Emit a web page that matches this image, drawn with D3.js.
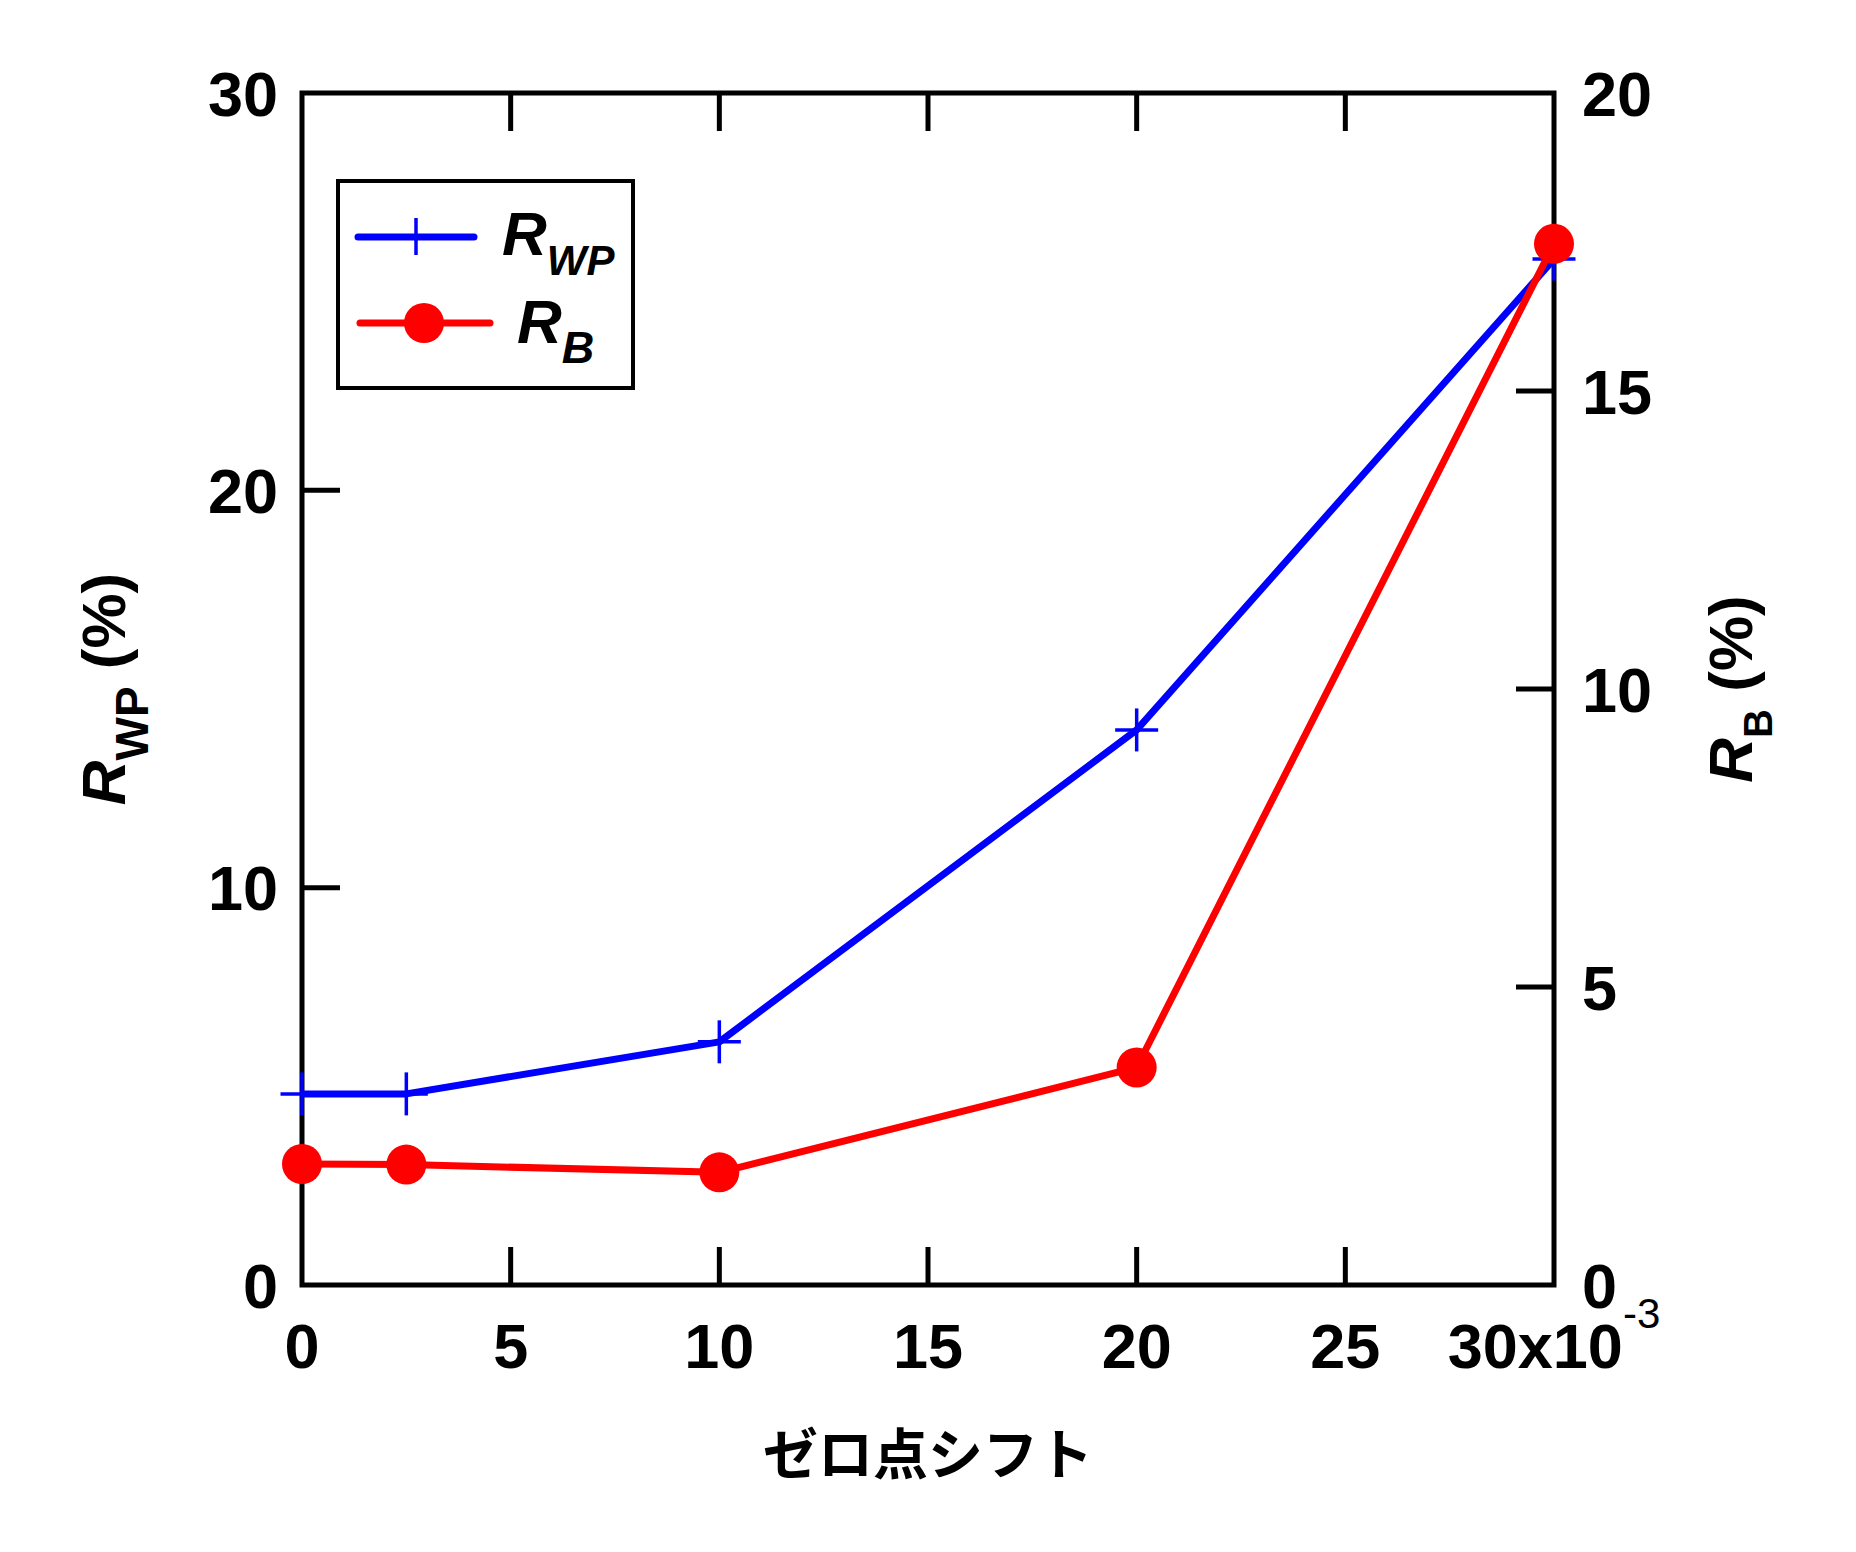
<!DOCTYPE html>
<html>
<head>
<meta charset="utf-8">
<script src="https://cdn.jsdelivr.net/npm/d3@7"></script>
<style>
  html, body { margin: 0; padding: 0; background: #fff; }
  svg { display: block; }
</style>
</head>
<body>
<svg id="chart" width="1856" height="1552"></svg>
<script>
// ---- data ----
const shift = [0, 2.5, 10, 20, 30];            // ×10^-3
const rwp   = [4.81, 4.81, 6.12, 13.97, 25.82]; // left axis (%)
const rb    = [2.03, 2.02, 1.89, 3.65, 17.47];  // right axis (%)
const xTicks = [0, 5, 10, 15, 20, 25, 30];
const yLeftTicks = [0, 10, 20, 30];
const yRightTicks = [0, 5, 10, 15, 20];
const xTitle = "ゼロ点シフト";

// ---- layout ----
const L = 302, R = 1554, T = 93, B = 1285;
const svg = d3.select("#chart");
const FONT = "'Liberation Sans', Arial, sans-serif";

const x = d3.scaleLinear().domain([0, 30]).range([L, R]);
const yL = d3.scaleLinear().domain([0, 30]).range([B, T]);
const yR = d3.scaleLinear().domain([0, 20]).range([B, T]);

const TL = 38;
const axisCol = "#000";

// frame
svg.append("rect").attr("x", L).attr("y", T).attr("width", R - L).attr("height", B - T)
  .attr("fill", "none").attr("stroke", axisCol).attr("stroke-width", 5);

// ticks (inward)
const g = svg.append("g").attr("stroke", axisCol).attr("stroke-width", 5);
xTicks.slice(1, -1).forEach(v => {
  g.append("line").attr("x1", x(v)).attr("x2", x(v)).attr("y1", B).attr("y2", B - TL);
  g.append("line").attr("x1", x(v)).attr("x2", x(v)).attr("y1", T).attr("y2", T + TL);
});
yLeftTicks.slice(1, -1).forEach(v => {
  g.append("line").attr("x1", L).attr("x2", L + TL).attr("y1", yL(v)).attr("y2", yL(v));
});
yRightTicks.slice(1, -1).forEach(v => {
  g.append("line").attr("x1", R).attr("x2", R - TL).attr("y1", yR(v)).attr("y2", yR(v));
});

// tick labels
const lab = svg.append("g").attr("font-family", FONT).attr("font-weight", "bold")
  .attr("font-size", 63).attr("fill", "#000");
xTicks.forEach((v, i) => {
  const t = lab.append("text").attr("x", x(v)).attr("y", 1368).attr("text-anchor", "middle");
  if (i === xTicks.length - 1) {
    t.append("tspan").text(v + "x10");
    t.append("tspan").attr("font-size", 42).attr("font-weight", "normal").attr("dy", -40).text("-3");
  } else {
    t.text(v);
  }
});
yLeftTicks.forEach(v => {
  lab.append("text").attr("x", 278).attr("y", yL(v)).attr("dy", "0.36em")
    .attr("text-anchor", "end").text(v);
});
yRightTicks.forEach(v => {
  lab.append("text").attr("x", 1582).attr("y", yR(v)).attr("dy", "0.36em")
    .attr("text-anchor", "start").text(v);
});

// axis titles
const midY = (T + B) / 2;
const lt = svg.append("text").attr("transform", `translate(125,${midY}) rotate(-90)`)
  .attr("font-family", FONT).attr("font-weight", "bold").attr("font-size", 62)
  .attr("text-anchor", "middle").attr("fill", "#000");
lt.append("tspan").attr("font-style", "italic").text("R");
lt.append("tspan").attr("font-size", 46).attr("dy", 23).text("WP");
lt.append("tspan").attr("dy", -23).text(" (%)");

const rt = svg.append("text").attr("transform", `translate(1752,${midY}) rotate(-90)`)
  .attr("font-family", FONT).attr("font-weight", "bold").attr("font-size", 62)
  .attr("text-anchor", "middle").attr("fill", "#000");
rt.append("tspan").attr("font-style", "italic").text("R");
rt.append("tspan").attr("font-size", 40).attr("dy", 20).text("B");
rt.append("tspan").attr("dy", -20).text(" (%)");

svg.append("text").attr("x", (L + R) / 2).attr("y", 1450).attr("dominant-baseline", "central")
  .attr("text-anchor", "middle").attr("font-family", "'Noto Sans CJK JP', sans-serif")
  .attr("font-weight", "bold").attr("font-size", 55).attr("fill", "#000").text(xTitle);

// ---- series ----
const blue = "#0000ff", red = "#ff0000";
const ptsW = shift.map((s, i) => [s, rwp[i]]);
const ptsB = shift.map((s, i) => [s, rb[i]]);

const lineW = d3.line().x(d => x(d[0])).y(d => yL(d[1]));
const lineB = d3.line().x(d => x(d[0])).y(d => yR(d[1]));
const CR = 21.5;

svg.append("path").attr("d", lineW(ptsW)).attr("fill", "none").attr("stroke", blue)
  .attr("stroke-width", 7).attr("stroke-linejoin", "round");
const cross = svg.append("g").attr("stroke", blue).attr("stroke-width", 3.5);
ptsW.forEach(d => {
  const cx = x(d[0]), cy = yL(d[1]);
  cross.append("line").attr("x1", cx - CR).attr("x2", cx + CR).attr("y1", cy).attr("y2", cy);
  cross.append("line").attr("x1", cx).attr("x2", cx).attr("y1", cy - CR).attr("y2", cy + CR);
});

svg.append("path").attr("d", lineB(ptsB)).attr("fill", "none").attr("stroke", red)
  .attr("stroke-width", 7).attr("stroke-linejoin", "round");
svg.append("g").selectAll("circle").data(ptsB).join("circle")
  .attr("cx", d => x(d[0])).attr("cy", d => yR(d[1])).attr("r", 20).attr("fill", red);

// ---- legend ----
const lg = svg.append("g");
lg.append("rect").attr("x", 338).attr("y", 181).attr("width", 295).attr("height", 207)
  .attr("fill", "#fff").attr("stroke", "#000").attr("stroke-width", 4);
// R_WP entry
lg.append("line").attr("x1", 358).attr("x2", 474).attr("y1", 237).attr("y2", 237)
  .attr("stroke", blue).attr("stroke-width", 7).attr("stroke-linecap", "round");
lg.append("line").attr("x1", 416).attr("x2", 416).attr("y1", 218).attr("y2", 255)
  .attr("stroke", blue).attr("stroke-width", 3.5);
const lt1 = lg.append("text").attr("x", 502).attr("y", 255).attr("font-family", FONT)
  .attr("font-weight", "bold").attr("font-style", "italic").attr("font-size", 62).attr("fill", "#000");
lt1.append("tspan").text("R");
lt1.append("tspan").attr("font-size", 42).attr("dy", 20).text("WP");
// R_B entry
lg.append("line").attr("x1", 360).attr("x2", 490).attr("y1", 323).attr("y2", 323)
  .attr("stroke", red).attr("stroke-width", 7).attr("stroke-linecap", "round");
lg.append("circle").attr("cx", 424).attr("cy", 323).attr("r", 20).attr("fill", red);
const lt2 = lg.append("text").attr("x", 517).attr("y", 343).attr("font-family", FONT)
  .attr("font-weight", "bold").attr("font-style", "italic").attr("font-size", 62).attr("fill", "#000");
lt2.append("tspan").text("R");
lt2.append("tspan").attr("font-size", 45).attr("dy", 20).text("B");
</script>
</body>
</html>
